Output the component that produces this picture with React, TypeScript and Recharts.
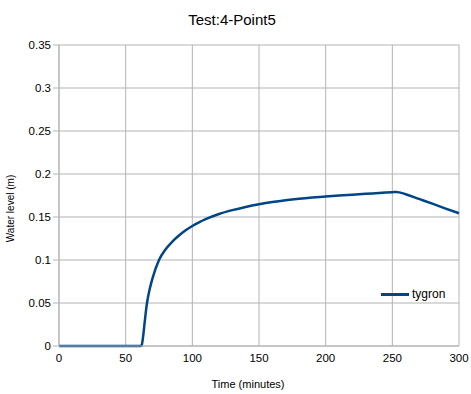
import { LineChart, Line, XAxis, YAxis, CartesianGrid, Legend, Label } from 'recharts'

// minutes
const times = [0, 61, 62, 63, 64, 65, 66, 68, 70, 75, 80, 85, 90, 95, 100, 105, 110, 120, 130, 140, 150, 160, 170, 180, 190, 200, 210, 220, 230, 240, 250, 253, 260, 270, 280, 290, 300]
// water level (m)
const tygron = [0, 0, 0.001, 0.01, 0.024, 0.038, 0.05, 0.066, 0.078, 0.1, 0.1125, 0.1215, 0.1285, 0.1345, 0.1395, 0.1438, 0.1475, 0.1535, 0.158, 0.1617, 0.1648, 0.1674, 0.1695, 0.1712, 0.1726, 0.1738, 0.1749, 0.1759, 0.1769, 0.1779, 0.1789, 0.1792, 0.1765, 0.171, 0.1655, 0.1598, 0.1543]

const xTicks = [0, 50, 100, 150, 200, 250, 300]
const yTicks = [0, 0.05, 0.1, 0.15, 0.2, 0.25, 0.3, 0.35]

const data = times.map((t, i) => ({ t, tygron: tygron[i] }))

const font = '"Liberation Sans", Arial, sans-serif'
const lineColor = '#004586'
const gridColor = '#b3b3b3'

const YLabel = (props: any) => {
  const vb = props.viewBox
  const cx = 10
  const cy = vb.y + vb.height / 2 + 13
  return (
    <text
      x={cx}
      y={cy}
      transform={`rotate(-90, ${cx}, ${cy})`}
      textAnchor="middle"
      dominantBaseline="central"
      fontSize={10}
      fontFamily={font}
      fill="#000"
    >
      Water level (m)
    </text>
  )
}

const LegendContent = () => (
  <div style={{ display: 'flex', alignItems: 'center', fontFamily: font, fontSize: 12, color: '#000' }}>
    <span style={{ display: 'inline-block', width: 28, height: 3, background: lineColor, marginRight: 3 }} />
    <span>tygron</span>
  </div>
)

export default function App() {
  return (
    <div style={{ position: 'absolute', left: 0, top: 0, width: 471, height: 394, background: '#fff' }}>
      <div
        style={{
          position: 'absolute',
          left: 0,
          top: 12,
          width: 464,
          textAlign: 'center',
          fontFamily: font,
          fontSize: 15,
          lineHeight: '15px',
          color: '#000',
        }}
      >
        Test:4-Point5
      </div>
      <LineChart width={471} height={394} data={data} margin={{ top: 45, right: 12, left: 0, bottom: 0 }}>
        <CartesianGrid stroke={gridColor} strokeWidth={1} />
        <XAxis
          dataKey="t"
          type="number"
          domain={[0, 300]}
          ticks={xTicks}
          height={48}
          tickLine={false}
          axisLine={{ stroke: gridColor }}
          tick={{ fill: '#000', fontSize: 11.5, fontFamily: font }}
        >
          <Label
            value="Time (minutes)"
            position="insideBottom"
            offset={6}
            dx={-11}
            style={{ fill: '#000', fontSize: 11, fontFamily: font }}
          />
        </XAxis>
        <YAxis
          type="number"
          domain={[0, 0.35]}
          ticks={yTicks}
          width={59}
          tickSize={6}
          tickLine={{ stroke: gridColor }}
          axisLine={{ stroke: gridColor }}
          tick={{ fill: '#000', fontSize: 11.5, fontFamily: font }}
        >
          <Label content={YLabel} />
        </YAxis>
        <Legend
          layout="horizontal"
          verticalAlign="middle"
          align="center"
          content={LegendContent}
          wrapperStyle={{ position: 'absolute', left: 381, top: 287, width: 'auto' }}
        />
        <Line
          dataKey="tygron"
          name="tygron"
          type="monotone"
          stroke={lineColor}
          strokeWidth={2.5}
          dot={false}
          isAnimationActive={false}
        />
      </LineChart>
    </div>
  )
}
